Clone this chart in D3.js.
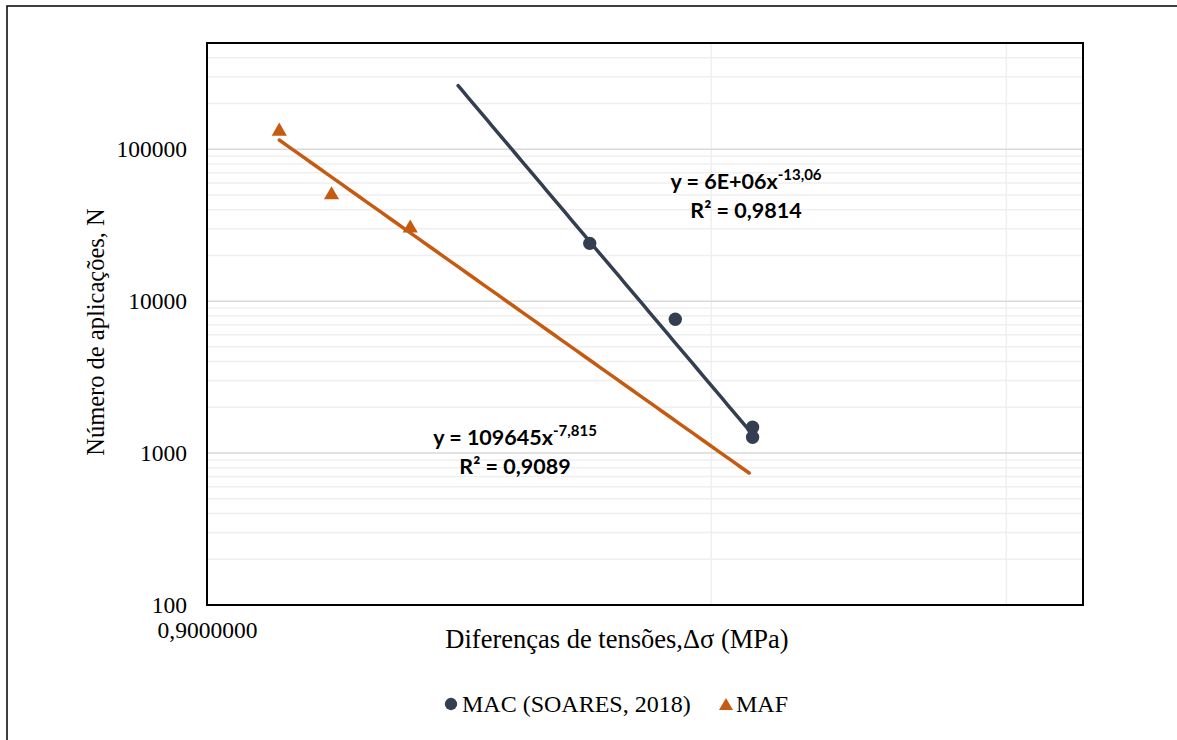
<!DOCTYPE html>
<html>
<head>
<meta charset="utf-8">
<script src="https://cdn.jsdelivr.net/npm/d3@7"></script>
<style>
  html, body { margin: 0; padding: 0; background: #fff; }
  svg { display: block; }
</style>
</head>
<body>
<svg id="chart" width="1177" height="740"></svg>
<script>
// Δσ (MPa) and N for each series
const macStress = [1.523, 1.713, 1.905, 1.905];
const macCycles = [24000, 7600, 1480, 1270];
const mafStress = [0.994, 1.068, 1.190];
const mafCycles = [131000, 50000, 30200];

// Power-law trend lines y = a·x^b, as printed on the chart
const macFit = { a: 6e6, b: -13.06, range: [1.271, 1.903] };
const mafFit = { a: 109645, b: -7.815, range: [0.994, 1.896] };
const macLabel = ["y = 6E+06x", "-13,06", "R² = 0,9814"];
const mafLabel = ["y = 109645x", "-7,815", "R² = 0,9089"];

// Axes
const xDomain = [0.9, 3.0];
const yDomain = [100, 500000];
const xTickValues = [0.9];
const xTickLabels = ["0,9000000"];
const xGridValues = [1.8, 2.7];
const yTickValues = [100, 1000, 10000, 100000];
const yTickLabels = ["100", "1000", "10000", "100000"];

const seriesNames = ["MAC (SOARES, 2018)", "MAF"];
const colors = { mac: "#333f50", maf: "#c55a11" };

const serif = "'Liberation Serif', 'Times New Roman', serif";
const svg = d3.select("#chart");
const plot = { left: 207, top: 43, right: 1083, bottom: 605 };

const x = d3.scaleLog().domain(xDomain).range([plot.left, plot.right]);
const y = d3.scaleLog().domain(yDomain).range([plot.bottom, plot.top]);

// outer frame of the chart
svg.append("rect")
  .attr("x", 7).attr("y", 6)
  .attr("width", 1300).attr("height", 900)
  .attr("fill", "none").attr("stroke", "#000").attr("stroke-width", 1.5);

// horizontal minor grid
const yMinor = y.ticks().filter(v => !yTickValues.includes(v) && v > yDomain[0] && v <= yDomain[1]);
svg.append("g").selectAll("line").data(yMinor).join("line")
  .attr("x1", plot.left).attr("x2", plot.right)
  .attr("y1", d => y(d)).attr("y2", d => y(d))
  .attr("stroke", "#efefef").attr("stroke-width", 1.5);

// vertical grid
svg.append("g").selectAll("line").data(xGridValues).join("line")
  .attr("x1", d => x(d)).attr("x2", d => x(d))
  .attr("y1", plot.top).attr("y2", plot.bottom)
  .attr("stroke", "#efefef").attr("stroke-width", 1.5);

// horizontal major grid
svg.append("g").selectAll("line").data(yTickValues.slice(1)).join("line")
  .attr("x1", plot.left).attr("x2", plot.right)
  .attr("y1", d => y(d)).attr("y2", d => y(d))
  .attr("stroke", "#d9d9d9").attr("stroke-width", 1.5);

// y axis labels
const yAxis = d3.axisLeft(y).tickValues(yTickValues)
  .tickFormat((d, i) => yTickLabels[i]).tickSize(0).tickPadding(20);
svg.append("g").attr("transform", `translate(${plot.left},0)`).call(yAxis)
  .call(g => g.select(".domain").remove())
  .selectAll("text")
  .attr("font-family", serif).attr("font-size", 23.5).attr("fill", "#000");

// x axis labels
const xAxis = d3.axisBottom(x).tickValues(xTickValues)
  .tickFormat((d, i) => xTickLabels[i]).tickSize(0).tickPadding(16);
svg.append("g").attr("transform", `translate(0,${plot.bottom})`).call(xAxis)
  .call(g => g.select(".domain").remove())
  .selectAll("text")
  .attr("font-family", serif).attr("font-size", 23.5).attr("fill", "#000");

// trend lines
function trend(fit) {
  const xs = d3.range(0, 61).map(i => fit.range[0] * Math.pow(fit.range[1] / fit.range[0], i / 60));
  return xs.map(v => [v, fit.a * Math.pow(v, fit.b)]);
}
const line = d3.line().x(d => x(d[0])).y(d => y(d[1]));
svg.append("path").datum(trend(mafFit)).attr("d", line)
  .attr("fill", "none").attr("stroke", colors.maf).attr("stroke-width", 3.5)
  .attr("stroke-linecap", "round");
svg.append("path").datum(trend(macFit)).attr("d", line)
  .attr("fill", "none").attr("stroke", colors.mac).attr("stroke-width", 3.5)
  .attr("stroke-linecap", "round");

// markers
const circleSym = d3.symbol().type(d3.symbolCircle).size(140);
const triSym = d3.symbol().type(d3.symbolTriangle).size(100);
svg.append("g").selectAll("path").data(d3.zip(macStress, macCycles)).join("path")
  .attr("d", circleSym)
  .attr("transform", d => `translate(${x(d[0])},${y(d[1])})`)
  .attr("fill", colors.mac);
svg.append("g").selectAll("path").data(d3.zip(mafStress, mafCycles)).join("path")
  .attr("d", triSym)
  .attr("transform", d => `translate(${x(d[0])},${y(d[1])})`)
  .attr("fill", colors.maf);

// plot border
svg.append("rect")
  .attr("x", plot.left).attr("y", plot.top)
  .attr("width", plot.right - plot.left).attr("height", plot.bottom - plot.top)
  .attr("fill", "none").attr("stroke", "#000").attr("stroke-width", 2);

// equation labels
function equation(lbl, cx, y1, y2) {
  const g = svg.append("g")
    .attr("font-family", "Lato, 'Open Sans', sans-serif")
    .attr("font-weight", "bold").attr("fill", "#000");
  const t = g.append("text").attr("x", cx).attr("y", y1).attr("text-anchor", "middle")
    .attr("font-size", 21.5);
  t.append("tspan").text(lbl[0]);
  t.append("tspan").attr("dy", -9).attr("font-size", 15).text(lbl[1]);
  g.append("text").attr("x", cx).attr("y", y2).attr("text-anchor", "middle")
    .attr("font-size", 21.5).text(lbl[2]);
}
equation(macLabel, 746, 189, 218);
equation(mafLabel, 515, 445, 474);

// axis titles
svg.append("text")
  .attr("transform", "translate(104,332) rotate(-90)")
  .attr("text-anchor", "middle")
  .attr("font-family", serif).attr("font-size", 24.5)
  .text("Número de aplicações, N");
svg.append("text")
  .attr("x", 617).attr("y", 648).attr("text-anchor", "middle")
  .attr("font-family", serif).attr("font-size", 26.5)
  .text("Diferenças de tensões,Δσ (MPa)");

// legend
const legend = svg.append("g")
  .attr("font-family", serif).attr("font-size", 24).attr("fill", "#000");
legend.append("path").attr("d", circleSym.size(120)())
  .attr("transform", "translate(451,704)").attr("fill", colors.mac);
legend.append("text").attr("x", 462).attr("y", 712).text(seriesNames[0]);
legend.append("path").attr("d", d3.symbol().type(d3.symbolTriangle).size(85)())
  .attr("transform", "translate(726,706)").attr("fill", colors.maf);
legend.append("text").attr("x", 736).attr("y", 712).text(seriesNames[1]);
</script>
</body>
</html>
